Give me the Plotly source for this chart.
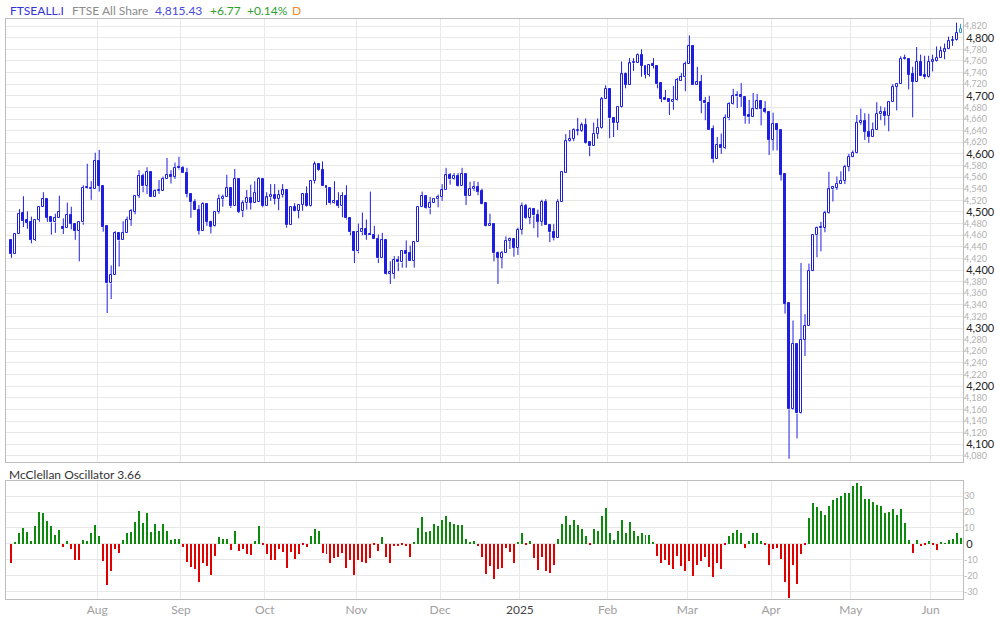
import pandas as pd
import plotly.graph_objects as go

# ---------------- data ----------------
HOLIDAYS = ["2024-08-26", "2024-12-25", "2024-12-26", "2025-01-01",
            "2025-04-18", "2025-04-21", "2025-05-05", "2025-05-26"]
_days = pd.bdate_range("2024-07-02", "2025-06-11")
DATES = _days[~_days.isin(pd.to_datetime(HOLIDAYS))]

OHLC = [
    (4451, 4452, 4421, 4428), (4428, 4462, 4428, 4462), (4462, 4505, 4462, 4497), (4498, 4527, 4474, 4485),
    (4486, 4501, 4471, 4481), (4482, 4492, 4446, 4452), (4452, 4487, 4450, 4487), (4486, 4509, 4483, 4509),
    (4509, 4534, 4509, 4523), (4523, 4523, 4483, 4490), (4491, 4491, 4461, 4482), (4482, 4497, 4464, 4489),
    (4489, 4528, 4489, 4500), (4474, 4489, 4462, 4471), (4473, 4516, 4473, 4495), (4495, 4509, 4470, 4480),
    (4480, 4480, 4452, 4468), (4468, 4482, 4415, 4482), (4482, 4546, 4478, 4542), (4541, 4583, 4540, 4542),
    (4539, 4553, 4521, 4542), (4540, 4602, 4540, 4588), (4588, 4607, 4535, 4545), (4545, 4545, 4466, 4474),
    (4475, 4475, 4326, 4377), (4377, 4408, 4350, 4392), (4391, 4467, 4391, 4463), (4463, 4463, 4406, 4451),
    (4451, 4484, 4451, 4464), (4464, 4492, 4464, 4487), (4487, 4505, 4476, 4501), (4500, 4528, 4496, 4528),
    (4528, 4572, 4524, 4562), (4562, 4566, 4534, 4544), (4545, 4577, 4531, 4569), (4569, 4569, 4526, 4526),
    (4526, 4539, 4526, 4536), (4536, 4555, 4531, 4537), (4536, 4561, 4536, 4557), (4557, 4593, 4557, 4564),
    (4564, 4572, 4549, 4560), (4561, 4585, 4557, 4576), (4576, 4595, 4573, 4575), (4576, 4579, 4567, 4567),
    (4567, 4576, 4525, 4531), (4531, 4531, 4490, 4518), (4518, 4522, 4503, 4503), (4504, 4512, 4461, 4468),
    (4468, 4517, 4468, 4514), (4514, 4514, 4476, 4483), (4483, 4485, 4463, 4474), (4475, 4501, 4474, 4500),
    (4500, 4530, 4497, 4523), (4522, 4530, 4509, 4526), (4526, 4564, 4526, 4541), (4541, 4541, 4507, 4510),
    (4510, 4574, 4510, 4557), (4557, 4557, 4498, 4500), (4501, 4520, 4491, 4515), (4515, 4538, 4504, 4524),
    (4524, 4547, 4504, 4516), (4516, 4553, 4516, 4533), (4517, 4560, 4517, 4557), (4557, 4557, 4508, 4510),
    (4511, 4534, 4511, 4525), (4525, 4548, 4519, 4529), (4529, 4548, 4513, 4523), (4523, 4538, 4503, 4529),
    (4529, 4548, 4525, 4537), (4537, 4537, 4473, 4477), (4477, 4508, 4477, 4508), (4508, 4515, 4501, 4502),
    (4502, 4512, 4489, 4512), (4512, 4531, 4502, 4531), (4531, 4544, 4509, 4510), (4510, 4553, 4509, 4553),
    (4553, 4587, 4549, 4582), (4582, 4582, 4571, 4572), (4572, 4587, 4544, 4544), (4544, 4544, 4512, 4541),
    (4541, 4541, 4513, 4515), (4515, 4553, 4514, 4519), (4519, 4534, 4507, 4510), (4510, 4534, 4491, 4527),
    (4527, 4546, 4487, 4489), (4490, 4490, 4460, 4465), (4466, 4466, 4412, 4433), (4432, 4480, 4429, 4466),
    (4465, 4499, 4460, 4470), (4470, 4487, 4452, 4461), (4461, 4535, 4460, 4460), (4461, 4476, 4454, 4454),
    (4454, 4461, 4412, 4420), (4420, 4464, 4420, 4451), (4451, 4451, 4392, 4393), (4394, 4415, 4376, 4395),
    (4394, 4424, 4385, 4418), (4418, 4424, 4398, 4413), (4413, 4432, 4404, 4432), (4432, 4451, 4404, 4427),
    (4429, 4442, 4416, 4416), (4416, 4449, 4404, 4449), (4449, 4508, 4449, 4508), (4508, 4535, 4508, 4527),
    (4527, 4527, 4505, 4506), (4506, 4526, 4496, 4515), (4515, 4522, 4515, 4522), (4522, 4530, 4508, 4526),
    (4526, 4548, 4519, 4537), (4537, 4576, 4537, 4563), (4563, 4567, 4547, 4556), (4556, 4567, 4555, 4562),
    (4562, 4567, 4543, 4544), (4544, 4576, 4544, 4565), (4565, 4565, 4512, 4528), (4528, 4552, 4528, 4539),
    (4539, 4553, 4536, 4543), (4543, 4552, 4529, 4535), (4536, 4540, 4513, 4514), (4515, 4515, 4475, 4476),
    (4476, 4497, 4476, 4480), (4479, 4479, 4415, 4429), (4430, 4432, 4376, 4421), (4421, 4433, 4403, 4430),
    (4430, 4458, 4430, 4450), (4450, 4456, 4436, 4454), (4454, 4454, 4423, 4438), (4438, 4473, 4426, 4469),
    (4469, 4516, 4461, 4510), (4510, 4514, 4488, 4490), (4490, 4508, 4479, 4505), (4505, 4505, 4472, 4494),
    (4494, 4504, 4456, 4483), (4483, 4521, 4476, 4518), (4518, 4522, 4477, 4477), (4478, 4478, 4448, 4465),
    (4465, 4479, 4451, 4455), (4455, 4522, 4455, 4518), (4518, 4568, 4518, 4568), (4567, 4634, 4567, 4622),
    (4622, 4641, 4621, 4626), (4626, 4644, 4622, 4641), (4640, 4662, 4632, 4642), (4640, 4654, 4638, 4649),
    (4649, 4661, 4617, 4618), (4620, 4620, 4596, 4613), (4613, 4654, 4613, 4635), (4635, 4661, 4626, 4645),
    (4644, 4698, 4643, 4694), (4694, 4718, 4694, 4712), (4712, 4712, 4627, 4661), (4662, 4662, 4629, 4653),
    (4653, 4681, 4641, 4681), (4681, 4759, 4680, 4737), (4737, 4740, 4713, 4719), (4719, 4765, 4719, 4756),
    (4756, 4765, 4743, 4759), (4757, 4773, 4757, 4771), (4771, 4780, 4733, 4752), (4752, 4752, 4730, 4736),
    (4736, 4753, 4733, 4753), (4754, 4765, 4747, 4752), (4752, 4752, 4713, 4720), (4722, 4722, 4689, 4695),
    (4696, 4710, 4693, 4693), (4695, 4695, 4667, 4689), (4689, 4717, 4676, 4693), (4693, 4731, 4692, 4727),
    (4726, 4739, 4726, 4732), (4732, 4759, 4708, 4754), (4754, 4804, 4754, 4785), (4785, 4787, 4719, 4719),
    (4719, 4750, 4719, 4723), (4723, 4736, 4670, 4691), (4691, 4698, 4658, 4687), (4687, 4700, 4642, 4642),
    (4643, 4649, 4585, 4591), (4591, 4629, 4591, 4616), (4616, 4635, 4600, 4610), (4610, 4668, 4608, 4662),
    (4661, 4689, 4658, 4686), (4686, 4712, 4685, 4699), (4699, 4708, 4679, 4702), (4702, 4722, 4681, 4698),
    (4698, 4698, 4652, 4666), (4667, 4693, 4652, 4663), (4663, 4705, 4663, 4677), (4677, 4703, 4676, 4691),
    (4691, 4691, 4649, 4677), (4678, 4691, 4670, 4672), (4672, 4672, 4598, 4624), (4624, 4671, 4606, 4652),
    (4652, 4652, 4606, 4641), (4641, 4641, 4554, 4564), (4565, 4565, 4325, 4342), (4343, 4343, 4075, 4160),
    (4160, 4313, 4159, 4273), (4273, 4273, 4110, 4153), (4153, 4412, 4152, 4280), (4280, 4324, 4252, 4304),
    (4304, 4411, 4304, 4399), (4399, 4460, 4398, 4460), (4460, 4475, 4422, 4473), (4472, 4483, 4432, 4473),
    (4473, 4502, 4465, 4498), (4498, 4569, 4497, 4539), (4539, 4545, 4518, 4543), (4542, 4561, 4538, 4549),
    (4549, 4570, 4548, 4554), (4554, 4581, 4548, 4578), (4578, 4600, 4570, 4595), (4595, 4606, 4594, 4602),
    (4602, 4667, 4601, 4653), (4653, 4678, 4650, 4657), (4657, 4670, 4624, 4638), (4638, 4669, 4619, 4629),
    (4629, 4654, 4629, 4641), (4641, 4689, 4641, 4669), (4668, 4682, 4658, 4672), (4672, 4680, 4649, 4665),
    (4665, 4689, 4639, 4689), (4689, 4720, 4689, 4716), (4716, 4721, 4675, 4721), (4721, 4768, 4721, 4764),
    (4763, 4771, 4762, 4765), (4763, 4763, 4711, 4736), (4737, 4750, 4663, 4724), (4724, 4784, 4724, 4759),
    (4759, 4771, 4735, 4735), (4736, 4769, 4729, 4732), (4732, 4769, 4731, 4759), (4759, 4771, 4742, 4761),
    (4760, 4785, 4759, 4766), (4765, 4785, 4765, 4777), (4776, 4790, 4763, 4780), (4780, 4802, 4780, 4795),
    (4795, 4803, 4786, 4797), (4796, 4826, 4795, 4808.66), (4808.66, 4824, 4808, 4815.43),
]
OPEN = [r[0] for r in OHLC]
HIGH = [r[1] for r in OHLC]
LOW = [r[2] for r in OHLC]
CLOSE = [r[3] for r in OHLC]

OSC = [
    -12.1, 0.8, 6.5, 10.2, 7.7, 1.5, 11.5, 20.2, 19.6, 14.6, 11.5, 5.8, 9.0, -2.1, 1.5, -3.1,
    -10.2, -10.2, 2.7, 1.5, 7.1, 12.1, 5.2, -10.8, -25.8, -17.1, -3.3, -5.8, 2.7, 6.5, 7.7, 14.0,
    20.8, 13.3, 19.4, 7.7, 12.7, 8.3, 12.7, 8.3, 2.1, 3.3, 3.3, -2.1, -11.5, -14.6, -15.8, -24.0,
    -12.1, -14.0, -19.6, -7.7, 4.0, 3.3, 3.3, -4.0, 8.3, -4.6, -3.3, -6.5, -7.1, 1.5, 11.5, -1.0,
    -6.5, -10.2, -10.2, -3.3, -5.2, -15.2, -5.2, -9.6, -6.5, -1.0, -2.1, 5.2, 9.6, 8.3, -5.8, -6.5,
    -12.1, -9.0, -8.3, -5.8, -15.2, -10.2, -19.6, -10.2, -11.5, -12.1, -9.0, -1.0, -4.6, 4.6, -8.3, -12.1,
    -1.5, -1.5, -0.5, -1.5, -8.3, 0.8, 10.2, 17.1, 7.7, 8.3, 12.7, 11.5, 15.2, 17.7, 14.0, 12.7,
    12.1, 12.1, 3.3, 0.8, 1.5, -1.5, -8.3, -19.0, -14.0, -22.3, -15.8, -15.2, -2.7, -5.2, -12.1, 0.8,
    6.5, -0.8, 1.5, -9.0, -16.5, -8.3, -17.1, -18.3, -13.3, 3.3, 12.7, 17.7, 12.1, 15.2, 12.1, 9.6,
    5.2, -0.3, 9.6, 8.3, 17.7, 22.7, 7.1, 2.7, 8.3, 15.2, 6.5, 14.0, 8.3, 5.2, 7.1, 5.8,
    5.8, 0.8, -7.7, -12.1, -10.2, -13.3, -15.8, -7.7, -14.0, -17.1, -10.8, -20.2, -13.3, -10.8, -8.3, -14.6,
    -20.8, -12.1, -15.8, -0.8, 5.2, 6.5, 9.0, 7.1, -2.7, 1.5, 6.5, 7.1, 1.5, -0.8, -13.3, -3.3,
    -2.7, -9.6, -24.0, -34.0, -13.3, -25.2, -6.5, -0.8, 16.5, 25.8, 23.3, 20.8, 18.3, 24.0, 27.7, 29.0,
    30.2, 32.1, 32.1, 36.5, 38.3, 36.5, 28.3, 28.3, 26.5, 24.6, 24.0, 19.6, 20.2, 22.1, 18.3, 22.1,
    13.3, 2.7, -5.8, 2.7, -1.5, -0.8, 1.5, -0.8, -4.0, 0.8, 0.3, 2.7, 3.3, 6.5, 3.66,
]

MONTH_LABELS = ["Aug", "Sep", "Oct", "Nov", "Dec", "2025", "Feb", "Mar", "Apr", "May", "Jun"]
PRICE_MAJOR = [4100, 4200, 4300, 4400, 4500, 4600, 4700, 4800]
PRICE_MINOR = [v for v in range(4080, 4840, 20) if v % 100 != 0]
OSC_MINOR = [-30, -20, -10, 10, 20, 30]

# ---------------- layout helpers ----------------
N = len(CLOSE)
X = list(range(N))
month_pos = [i - 0.5 for i in range(1, len(DATES)) if DATES[i].month != DATES[i - 1].month]
month_text = [lbl if lbl != "2025" else "<span style='color:#444'>2025</span>" for lbl in MONTH_LABELS]
date_text = [d.strftime("%d %b %Y") for d in DATES]

W, H = 1000, 622
ML, MR, MT, MB = 5, 35, 19, 18
PW, PH = W - ML - MR, H - MT - MB


def py(px):  # pixel y -> paper y
    return (H - MB - px) / PH


def pxx(px):  # pixel x -> paper x
    return (px - ML) / PW


BLUE = "#1e1ee0"
LAST = "#2c9ee0"
GRID = "#e8e8e8"
BORDER = "#bdbdbd"
FONT = "Lato, 'Open Sans', sans-serif"

x_range = [-1.375, 238.625]
p_range = [4069.1, 4832.3]
o_range = [-34.8, 39.6]
top_dom = [py(466), 1.0]
bot_dom = [0.0, py(485)]

# candle bodies (bars) and wicks (line segments), derived from OHLC
is_up = [c > o for o, c in zip(OPEN, CLOSE)]
body_base = [min(o, c) for o, c in zip(OPEN, CLOSE)]
body_size = [max(abs(c - o), 2.0) for o, c in zip(OPEN, CLOSE)]
edge_col = [BLUE] * (N - 1) + [LAST]
fill_col = ["white" if u else e for u, e in zip(is_up, edge_col)]


def wick_xy(idx):
    wx, wy = [], []
    for i in idx:
        top, bot = max(OPEN[i], CLOSE[i]), min(OPEN[i], CLOSE[i])
        if HIGH[i] > top:
            wx += [X[i], X[i], None]
            wy += [top, HIGH[i], None]
        if LOW[i] < bot:
            wx += [X[i], X[i], None]
            wy += [LOW[i], bot, None]
    return wx, wy


fig = go.Figure()
fig.add_trace(go.Bar(
    x=X, y=body_size, base=body_base, width=0.5,
    marker=dict(color=fill_col, line=dict(color=edge_col, width=1)),
    customdata=list(zip(OPEN, HIGH, LOW, CLOSE)), hovertext=date_text,
    hovertemplate="%{hovertext}<br>O %{customdata[0]}<br>H %{customdata[1]}"
                  "<br>L %{customdata[2]}<br>C %{customdata[3]}<extra></extra>",
    xaxis="x", yaxis="y", showlegend=False, name="FTSEALL.I",
))
wx, wy = wick_xy(range(N - 1))
fig.add_trace(go.Scatter(x=wx, y=wy, mode="lines", line=dict(color=BLUE, width=1),
                         connectgaps=False, hoverinfo="skip", showlegend=False,
                         xaxis="x", yaxis="y"))
wx, wy = wick_xy([N - 1])
fig.add_trace(go.Scatter(x=wx, y=wy, mode="lines", line=dict(color=LAST, width=1),
                         connectgaps=False, hoverinfo="skip", showlegend=False,
                         xaxis="x", yaxis="y"))
fig.add_trace(go.Bar(
    x=X, y=OSC, width=0.25,
    marker=dict(color=["#0b8a0b" if v >= 0 else "#e00000" for v in OSC], line=dict(width=0)),
    hovertext=date_text, hovertemplate="%{hovertext}: %{y}<extra></extra>",
    xaxis="x2", yaxis="y2", showlegend=False, name="McClellan",
))
# carrier traces (draw nothing) so that the minor-label axes are rendered
fig.add_trace(go.Scatter(x=X[:1], y=CLOSE[:1], mode="none", xaxis="x", yaxis="y3",
                         showlegend=False, hoverinfo="skip"))
fig.add_trace(go.Scatter(x=X[:1], y=OSC[:1], mode="none", xaxis="x2", yaxis="y4",
                         showlegend=False, hoverinfo="skip"))

common_x = dict(range=x_range, tickmode="array", tickvals=month_pos, showgrid=True, gridcolor=GRID,
                gridwidth=1, showline=True, mirror=True, linecolor=BORDER, linewidth=1, zeroline=False,
                ticks="", fixedrange=True)
fig.update_layout(
    width=W, height=H, margin=dict(l=ML, r=MR, t=MT, b=MB),
    paper_bgcolor="white", plot_bgcolor="white",
    font=dict(family=FONT, color="#333"),
    barmode="overlay", bargap=0, bargroupgap=0,
    xaxis=dict(domain=[0, 1], anchor="y", showticklabels=False, **common_x),
    xaxis2=dict(domain=[0, 1], anchor="y2", ticktext=month_text, showticklabels=True,
                tickfont=dict(size=12, color="#a0a0a0", family=FONT), **common_x),
    yaxis=dict(domain=top_dom, anchor="x", side="right", range=p_range,
               tickmode="array", tickvals=PRICE_MAJOR, ticktext=[f"{v:,}" for v in PRICE_MAJOR],
               tickfont=dict(size=11, color="#222", family=FONT),
               showgrid=True, gridcolor=GRID, showline=True, mirror=True, linecolor=BORDER,
               zeroline=False, ticks="", fixedrange=True),
    yaxis3=dict(overlaying="y", anchor="x", side="right", range=p_range,
                tickmode="array", tickvals=PRICE_MINOR, ticktext=[f"{v:,}" for v in PRICE_MINOR],
                tickfont=dict(size=9, color="#b0b0b0", family=FONT),
                showgrid=True, gridcolor=GRID, showline=False, zeroline=False, ticks="", fixedrange=True),
    yaxis2=dict(domain=bot_dom, anchor="x2", side="right", range=o_range,
                tickmode="array", tickvals=[0], ticktext=["0"],
                tickfont=dict(size=11, color="#222", family=FONT),
                showgrid=True, gridcolor=GRID, showline=True, mirror=True, linecolor=BORDER,
                zeroline=False, ticks="", fixedrange=True),
    yaxis4=dict(overlaying="y2", anchor="x2", side="right", range=o_range,
                tickmode="array", tickvals=OSC_MINOR, ticktext=[str(v) for v in OSC_MINOR],
                tickfont=dict(size=9, color="#b0b0b0", family=FONT),
                showgrid=True, gridcolor=GRID, showline=False, zeroline=False, ticks="", fixedrange=True),
)

header = [
    ("FTSEALL.I", 8, "#3434d6"),
    ("FTSE All Share", 70, "#8c8c8c"),
    ("4,815.43", 153, "#4a4ad8"),
    ("+6.77", 209, "#2f9e2f"),
    ("+0.14%", 246, "#2f9e2f"),
    ("D", 291, "#f08a30"),
]
for txt, px, col in header:
    fig.add_annotation(text=txt, x=pxx(px), y=py(10), xref="paper", yref="paper",
                       xanchor="left", yanchor="middle", showarrow=False, borderpad=0,
                       font=dict(size=12, color=col, family=FONT))
fig.add_annotation(text="McClellan Oscillator 3.66", x=pxx(7), y=py(478), xref="paper", yref="paper",
                   xanchor="left", yanchor="middle", showarrow=False, borderpad=0,
                   font=dict(size=12, color="#333", family=FONT))

fig.write_html("out.html", config={"displayModeBar": False},
               post_script="document.body.style.margin='0px';")
